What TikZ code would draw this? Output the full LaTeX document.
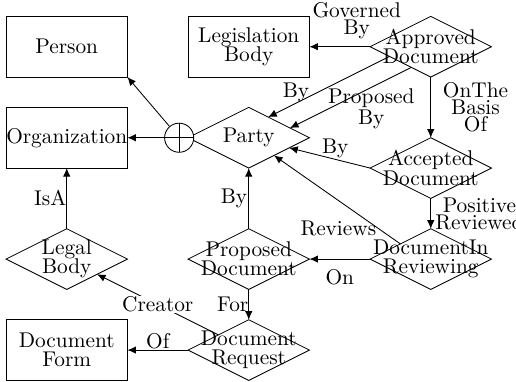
\documentclass[tikz,border=0pt]{standalone}
\usetikzlibrary{arrows.meta, positioning, shapes.geometric}
\tikzset{
  ent/.style={draw, rectangle, minimum width=2cm, minimum height=1cm, inner sep=0pt, outer sep=0pt, align=center, font=\fontsize{10}{9}\selectfont},
  rel/.style={draw, diamond, aspect=2, minimum width=2cm, minimum height=1cm, inner sep=0pt, outer sep=0pt,
    label={[align=center, inner sep=0pt, font=\fontsize{10}{9}\selectfont]center:#1}},
  oplus/.style={draw, circle, fill=white, minimum size=0.48cm, inner sep=0pt,
    path picture={\draw (path picture bounding box.north) -- (path picture bounding box.south)
      (path picture bounding box.west) -- (path picture bounding box.east);}},
  arrow/.style={-{Latex[length=4pt, width=3.5pt]}},
  lab/.style={font=\fontsize{10}{8}\selectfont, align=center, inner sep=0.5pt},
}
\begin{document}
\begin{tikzpicture}[node distance=0.5cm and 1cm]
  \useasboundingbox (0,0) rectangle (8.505,-6.28);
  % entities and relations, row by row
  \node[ent] (person) at (1.1,-0.77) {Person};
  \node[ent, right=of person] (legis) {Legislation\\Body};
  \node[rel={Approved\\Document}, right=of legis] (approved) {};
  \node[ent, below=of person] (org) {Organization};
  \node[rel=Party, right=of org] (party) {};
  \node[oplus, left=-0.1cm of party] (gen) {};
  \node[rel={Accepted\\Document}, below=1cm of approved] (accepted) {};
  \node[rel={DocumentIn\\Reviewing}, below=of accepted] (reviewing) {};
  \node[rel={Proposed\\Document}, left=of reviewing] (proposed) {};
  \node[rel={Legal\\Body}, left=of proposed] (legal) {};
  \node[rel={Document\\Request}, below=of proposed] (request) {};
  \node[ent, left=of request] (form) {Document\\Form};
  % links
  \draw[arrow] (gen) -- (org);
  \draw[arrow] (gen) -- (person.south east);
  \draw[arrow] (approved) -- (legis) node[lab, pos=0.22, above=3pt] {Governed\\By};
  \draw[arrow] ([xshift=-1.8mm, yshift=0.9mm]approved.south west) -- ([xshift=-1.8mm, yshift=0.9mm]party.north east) node[lab, pos=0.77, above] {By};
  \draw[arrow] ([xshift=1.8mm, yshift=-0.9mm]approved.south west) -- ([xshift=1.8mm, yshift=-0.9mm]party.north east) node[lab, pos=0.33, below] {Proposed\\By};
  \draw[arrow] (approved) -- (accepted) node[lab, midway, right=5pt] {OnThe\\Basis\\Of};
  \draw[arrow] (accepted.west) -- (party) node[lab, pos=0.43, above] {By};
  \draw[arrow] (accepted) -- (reviewing) node[lab, midway, right=1.5pt] {Positive\\Reviewed};
  \draw[arrow] (reviewing.north west) -- (party) node[lab, pos=0.18, left] {Reviews};
  \draw[arrow] (reviewing) -- (proposed) node[lab, midway, below=4pt] {On};
  \draw[arrow] (proposed) -- (party) node[lab, midway, left] {By};
  \draw[arrow] (proposed) -- (request) node[lab, midway, left=-0.5pt] {For};
  \draw[arrow] (legal) -- (org) node[lab, midway, left=-0.5pt] {IsA};
  \draw[arrow] (request.north west) -- (legal.south east) node[lab, midway, fill=white] {Creator};
  \draw[arrow] (request) -- (form) node[lab, midway, above] {Of};
\end{tikzpicture}
\end{document}
